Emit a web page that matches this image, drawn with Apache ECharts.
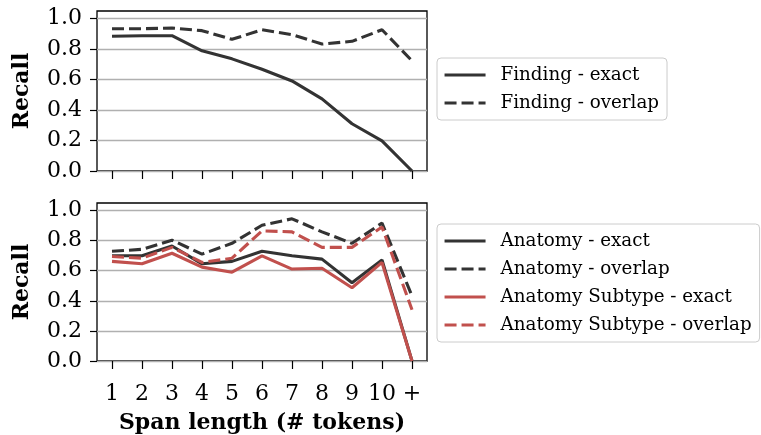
<!DOCTYPE html>
<html>
<head>
<meta charset="utf-8">
<script src="https://cdn.jsdelivr.net/npm/echarts@6/dist/echarts.min.js"></script>
<style>html,body{margin:0;padding:0;background:#fff}#c{width:761px;height:435px}</style>
</head>
<body>
<div id="c"></div>
<script>
const categories = ['1','2','3','4','5','6','7','8','9','10','+'];
const yTicks = [0, 0.2, 0.4, 0.6, 0.8, 1.0];
const findingExact   = [0.884, 0.888, 0.888, 0.789, 0.736, 0.668, 0.591, 0.473, 0.310, 0.198, 0.0];
const findingOverlap = [0.934, 0.934, 0.938, 0.921, 0.864, 0.927, 0.895, 0.833, 0.851, 0.927, 0.723];
const anatomyExact   = [0.699, 0.699, 0.764, 0.646, 0.662, 0.729, 0.699, 0.677, 0.520, 0.672, 0.0];
const anatomyOverlap = [0.729, 0.742, 0.803, 0.710, 0.782, 0.902, 0.945, 0.858, 0.782, 0.917, 0.432];
const subtypeExact   = [0.662, 0.646, 0.716, 0.624, 0.590, 0.699, 0.611, 0.616, 0.487, 0.655, 0.0];
const subtypeOverlap = [0.694, 0.683, 0.755, 0.655, 0.683, 0.865, 0.858, 0.755, 0.755, 0.891, 0.341];

const FONT = 'DejaVu Serif';
const DARK = '#333333';
const RED = '#c1504d';
const DASH = [12, 5];
const LW = 3.1;

function yAxis(gridIndex) {
  return {
    type: 'value', gridIndex, min: 0, max: 1.05, interval: 0.2,
    name: 'Recall', nameLocation: 'middle', nameRotate: 90, nameGap: 64,
    nameTextStyle: { fontFamily: FONT, fontWeight: 'bold', fontSize: 22, color: '#000' },
    axisLine: { show: false },
    axisTick: { show: true, length: 7, inside: false, customValues: yTicks, lineStyle: { color: '#000', width: 1.2 } },
    axisLabel: { show: true, margin: 15, customValues: yTicks, fontFamily: FONT, fontSize: 22, color: '#000',
                 formatter: v => v.toFixed(1) },
    splitLine: { show: true, lineStyle: { color: '#b0b0b0', width: 1.4 } }
  };
}
function xAxis(gridIndex, showLabels) {
  const ax = {
    type: 'category', gridIndex, data: categories, boundaryGap: true,
    axisLine: { show: false },
    axisTick: { show: true, alignWithLabel: true, length: 8, lineStyle: { color: '#000', width: 1.2 } },
    axisLabel: { show: showLabels, margin: 22, fontFamily: FONT, fontSize: 22, color: '#000', interval: 0 },
    splitLine: { show: false }
  };
  if (showLabels) {
    ax.name = 'Span length (# tokens)';
    ax.nameLocation = 'middle';
    ax.nameGap = 51;
    ax.nameTextStyle = { fontFamily: FONT, fontWeight: 'bold', fontSize: 22, color: '#000' };
  }
  return ax;
}
function line(name, data, color, dashed, idx) {
  return {
    name, type: 'line', data, xAxisIndex: idx, yAxisIndex: idx,
    symbol: 'none', smooth: false, animation: false,
    lineStyle: { color, width: LW, type: dashed ? DASH : 'solid' },
    itemStyle: { color }
  };
}
const legendCommon = {
  orient: 'vertical', itemWidth: 41, itemHeight: 14, itemGap: 10,
  textStyle: { fontFamily: FONT, fontSize: 18.3, color: '#000', padding: [0, 0, 0, 10] },
  itemStyle: { opacity: 0 },
  lineStyle: { width: LW },
  backgroundColor: '#fff', borderColor: '#cccccc', borderWidth: 1, borderRadius: 4,
  padding: [8, 8, 8, 6]
};

const chart = echarts.init(document.getElementById('c'), null, { renderer: 'canvas' });
chart.setOption({
  animation: false,
  backgroundColor: '#fff',
  grid: [
    { left: 97, top: 11, width: 330, height: 160, show: true, borderColor: '#000', borderWidth: 1.3, backgroundColor: 'transparent' },
    { left: 97, top: 203, width: 330, height: 161, show: true, borderColor: '#000', borderWidth: 1.3, backgroundColor: 'transparent' }
  ],
  xAxis: [xAxis(0, false), xAxis(1, true)],
  yAxis: [yAxis(0), yAxis(1)],
  legend: [
    Object.assign({}, legendCommon, { left: 437, top: 58, data: ['Finding - exact', 'Finding - overlap'] }),
    Object.assign({}, legendCommon, { left: 437, top: 224, data: ['Anatomy - exact', 'Anatomy - overlap', 'Anatomy Subtype - exact', 'Anatomy Subtype - overlap'] })
  ],
  series: [
    line('Finding - exact', findingExact, DARK, false, 0),
    line('Finding - overlap', findingOverlap, DARK, true, 0),
    line('Anatomy - exact', anatomyExact, DARK, false, 1),
    line('Anatomy - overlap', anatomyOverlap, DARK, true, 1),
    line('Anatomy Subtype - exact', subtypeExact, RED, false, 1),
    line('Anatomy Subtype - overlap', subtypeOverlap, RED, true, 1)
  ]
});
</script>
</body>
</html>
